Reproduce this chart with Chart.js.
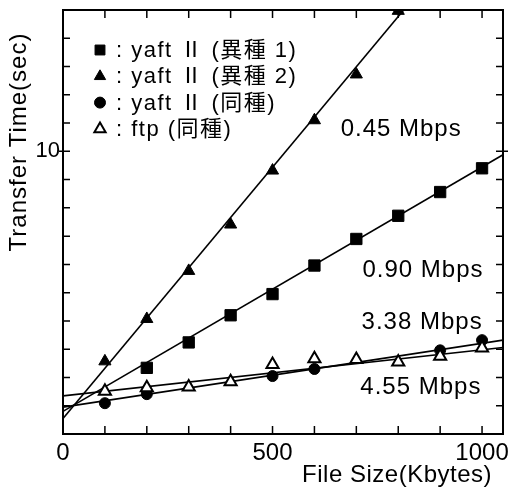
<!DOCTYPE html>
<html>
<head>
<meta charset="utf-8">
<script src="https://cdn.jsdelivr.net/npm/chart.js@4.4.1/dist/chart.umd.min.js"></script>
<style>
  html, body { margin: 0; padding: 0; background: #fff; }
  #wrap { width: 513px; height: 491px; }
</style>
</head>
<body>
<div id="wrap"><canvas id="chart" width="513" height="491"></canvas></div>
<script>
'use strict';

// file sizes (Kbytes)
var fileSizes = [100, 200, 300, 400, 500, 600, 700, 800, 900, 1000];

// transfer times (sec)
var hetero1 = [null, 2.34, 3.24, 4.2, 4.95, 5.96, 6.9, 7.72, 8.56, 9.4];
var hetero2 = [2.57, 4.07, 5.77, 7.41, 9.32, 11.1, 12.72, 14.97, null, null];
var homo = [1.09, 1.41, null, null, 2.05, 2.3, null, null, 2.96, 3.32];
var ftp = [1.51, 1.64, 1.66, 1.85, 2.46, 2.66, 2.64, 2.55, 2.75, 3.04];

// fitted lines, end points [x0, x1], [y0, y1]
var fitHetero1X = [0, 1050], fitHetero1Y = [0.8, 9.88];
var fitHetero2X = [0, 813], fitHetero2Y = [0.55, 15];
var fitHomoX = [0, 1050], fitHomoY = [0.95, 3.32];
var fitFtpX = [0, 1050], fitFtpY = [1.35, 3.06];

var legendLabels = [': yaft Ⅱ (異種 1)', ': yaft Ⅱ (異種 2)', ': yaft Ⅱ (同種)', ': ftp (同種)'];
var rateLabels = ['0.45 Mbps', '0.90 Mbps', '3.38 Mbps', '4.55 Mbps'];
var rateAt = [[807, 10.79], [859, 5.8], [857, 3.96], [854, 1.66]];

var xTickLabels = [0, 500, 1000];
var yTickLabels = [10];

var LATIN = '"Liberation Sans", Arial, sans-serif';
var FONT = '"Liberation Sans", "Noto Sans CJK JP", sans-serif';

function points(ys) {
    var out = [];
    for (var i = 0; i < fileSizes.length; i++) {
        if (ys[i] != null) {
            out.push({x: fileSizes[i], y: ys[i]});
        }
    }
    return out;
}

function fit(xs, ys) {
    return [{x: xs[0], y: ys[0]}, {x: xs[1], y: ys[1]}];
}

function lineSet(xs, ys) {
    return {
        type: 'line',
        data: fit(xs, ys),
        borderColor: '#000',
        borderWidth: 1.6,
        pointRadius: 0,
        fill: false,
        order: 10
    };
}

function markSet(ys, style, radius, bg, order) {
    return {
        type: 'scatter',
        data: points(ys),
        pointStyle: style,
        pointRadius: radius,
        pointHoverRadius: radius,
        backgroundColor: bg,
        borderColor: '#000',
        borderWidth: bg === '#fff' ? 2 : 1,
        order: order
    };
}

var frame = {
    id: 'frame',
    afterDraw: function (chart) {
        var ctx = chart.ctx;
        var a = chart.chartArea;
        var xs = chart.scales.x;
        var ys = chart.scales.y;
        ctx.save();
        ctx.strokeStyle = '#000';
        ctx.lineWidth = 2;
        ctx.strokeRect(a.left, a.top, a.right - a.left, a.bottom - a.top);

        ctx.lineWidth = 1.5;
        ctx.beginPath();
        for (var v = 100; v < 1050; v += 100) {
            var px = xs.getPixelForValue(v);
            ctx.moveTo(px, a.bottom);
            ctx.lineTo(px, a.bottom - 8);
            ctx.moveTo(px, a.top);
            ctx.lineTo(px, a.top + 8);
        }
        for (var t = 1; t < 15; t++) {
            var py = ys.getPixelForValue(t);
            ctx.moveTo(a.left, py);
            ctx.lineTo(a.left + 7, py);
            ctx.moveTo(a.right, py);
            ctx.lineTo(a.right - 7, py);
        }
        var p10 = ys.getPixelForValue(10);
        ctx.moveTo(a.left - 4, p10);
        ctx.lineTo(a.left, p10);
        ctx.moveTo(a.right + 5, p10);
        ctx.lineTo(a.right, p10);
        ctx.stroke();

        // axis titles
        ctx.fillStyle = '#000';
        ctx.font = '24px ' + LATIN;
        ctx.letterSpacing = '0.5px';
        ctx.textAlign = 'right';
        ctx.textBaseline = 'alphabetic';
        ctx.fillText('File Size(Kbytes)', 492, 482);
        ctx.save();
        ctx.translate(26, 142);
        ctx.rotate(-Math.PI / 2);
        ctx.textAlign = 'center';
        ctx.letterSpacing = '1px';
        ctx.fillText('Transfer Time(sec)', 0, 0);
        ctx.restore();

        // rate labels
        ctx.font = '24px ' + LATIN;
        ctx.letterSpacing = '1px';
        ctx.textAlign = 'center';
        ctx.textBaseline = 'middle';
        for (var r = 0; r < rateLabels.length; r++) {
            ctx.fillText(rateLabels[r], xs.getPixelForValue(rateAt[r][0]), ys.getPixelForValue(rateAt[r][1]));
        }

        // legend
        var styles = ['rect', 'triangle', 'circle', 'triangle'];
        var fills = ['#000', '#000', '#000', '#fff'];
        var radii = [7, 6.5, 5.5, 6.5];
        ctx.font = '22px ' + FONT;
        ctx.letterSpacing = '1.5px';
        ctx.textAlign = 'left';
        for (var i = 0; i < legendLabels.length; i++) {
            var ly = 50 + i * 26.3;
            ctx.fillStyle = fills[i];
            ctx.strokeStyle = '#000';
            ctx.lineWidth = fills[i] === '#fff' ? 2 : 1;
            Chart.helpers.drawPoint(ctx, {pointStyle: styles[i], radius: radii[i], rotation: 0, borderWidth: ctx.lineWidth}, 100, ly);
            ctx.fillStyle = '#000';
            ctx.fillText(legendLabels[i], 116, ly + 1);
        }
        ctx.restore();
    }
};

new Chart(document.getElementById('chart'), {
    type: 'scatter',
    data: {
        datasets: [
            lineSet(fitHetero1X, fitHetero1Y),
            lineSet(fitHetero2X, fitHetero2Y),
            lineSet(fitHomoX, fitHomoY),
            lineSet(fitFtpX, fitFtpY),
            markSet(hetero1, 'rect', 8, '#000', 4),
            markSet(hetero2, 'triangle', 7, '#000', 3),
            markSet(homo, 'circle', 5.5, '#000', 2),
            markSet(ftp, 'triangle', 7, '#fff', 1)
        ]
    },
    options: {
        responsive: false,
        animation: false,
        layout: {padding: {top: 10, right: 10, left: 0, bottom: 0}},
        plugins: {
            legend: {display: false},
            tooltip: {enabled: false}
        },
        scales: {
            x: {
                type: 'linear',
                min: 0,
                max: 1050,
                afterFit: function (s) { s.height = 57; },
                grid: {display: false},
                border: {display: false},
                ticks: {
                    autoSkip: false,
                    includeBounds: false,
                    maxRotation: 0,
                    minRotation: 0,
                    stepSize: 100,
                    padding: -3,
                    color: '#000',
                    font: {family: LATIN, size: 24},
                    callback: function (v) {
                        return xTickLabels.indexOf(v) >= 0 ? String(v) : '';
                    }
                }
            },
            y: {
                type: 'linear',
                min: 0,
                max: 15,
                afterFit: function (s) { s.width = 63; },
                grid: {display: false},
                border: {display: false},
                ticks: {
                    autoSkip: false,
                    stepSize: 1,
                    padding: -5,
                    color: '#000',
                    font: {family: LATIN, size: 22},
                    callback: function (v) {
                        return yTickLabels.indexOf(v) >= 0 ? String(v) : '';
                    }
                }
            }
        }
    },
    plugins: [frame]
});
</script>
</body>
</html>
